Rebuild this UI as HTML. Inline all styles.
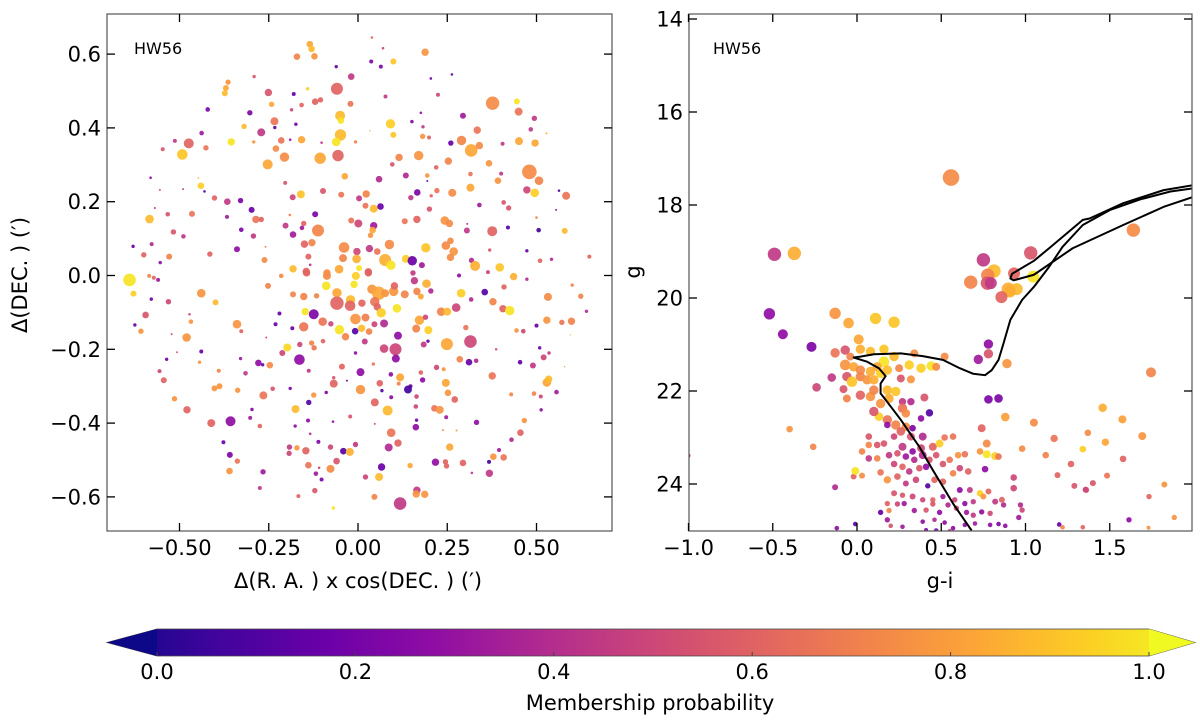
<!DOCTYPE html>
<html><head><meta charset="utf-8">
<style>
html,body{margin:0;padding:0;background:#fff;}
svg{display:block;font-family:"DejaVu Sans","Liberation Sans",sans-serif;}
</style></head>
<body>
<svg id="fig" width="1200" height="723" viewBox="0 0 1200 723" xmlns="http://www.w3.org/2000/svg">
<defs>
<linearGradient id="plasmaGrad" x1="0" x2="1" y1="0" y2="0">
<stop offset="0" stop-color="#0d0887"/><stop offset="0.1" stop-color="#41049d"/><stop offset="0.2" stop-color="#6a00a8"/><stop offset="0.3" stop-color="#8f0da4"/><stop offset="0.4" stop-color="#b12a90"/><stop offset="0.5" stop-color="#cc4778"/><stop offset="0.6" stop-color="#e16462"/><stop offset="0.7" stop-color="#f2844b"/><stop offset="0.8" stop-color="#fca636"/><stop offset="0.9" stop-color="#fcce25"/><stop offset="1" stop-color="#f0f921"/>
</linearGradient>
<clipPath id="clipL"><rect x="107" y="14" width="505" height="517"/></clipPath>
<clipPath id="clipR"><rect x="689" y="14" width="503" height="517"/></clipPath>
</defs>
<g id="leftPanel">
<g id="leftDots" clip-path="url(#clipL)"></g>
<rect x="107" y="14" width="505" height="517" fill="none" stroke="#555" stroke-width="1.2"/>
<g id="leftAxes"></g>
<text x="134" y="54" font-size="16">HW56</text>
<text x="358" y="588" font-size="21" text-anchor="middle">Δ(R. A. ) x cos(DEC. ) (′)</text>
<text transform="translate(27,275) rotate(-90)" font-size="21" text-anchor="middle">Δ(DEC. ) (′)</text>
</g>
<g id="rightPanel">
<g id="rightDots" clip-path="url(#clipR)"></g>
<g id="iso" clip-path="url(#clipR)"></g>
<rect x="689" y="14" width="503" height="517" fill="none" stroke="#555" stroke-width="1.2"/>
<g id="rightAxes"></g>
<text x="713" y="54" font-size="16">HW56</text>
<text x="940" y="588" font-size="21" text-anchor="middle">g-i</text>
<text transform="translate(640,272) rotate(-90)" font-size="21" text-anchor="middle">g</text>
</g>
<g id="colorbar">
<polygon points="107,642.5 157,629 1149,629 1195,642.5 1149,656 157,656" fill="url(#plasmaGrad)" stroke="#444" stroke-width="0.8"/>
<polygon points="107,642.5 157,629 157,656" fill="#0d0887"/>
<polygon points="1195,642.5 1149,629 1149,656" fill="#f0f921"/>
<g id="cbTicks"></g>
<text x="650" y="710" font-size="21" text-anchor="middle">Membership probability</text>
</g>
</svg>
<script>
// ---- data ----
const leftTicksX = [-0.5,-0.25,0,0.25,0.5];
const leftTickLabelsX = ["−0.50","−0.25","0.00","0.25","0.50"];
const leftTicksY = [-0.6,-0.4,-0.2,0,0.2,0.4,0.6];
const leftTickLabelsY = ["−0.6","−0.4","−0.2","0.0","0.2","0.4","0.6"];
const rightTicksX = [-1,-0.5,0,0.5,1,1.5];
const rightTickLabelsX = ["−1.0","−0.5","0.0","0.5","1.0","1.5"];
const rightTicksY = [14,16,18,20,22,24];
const rightTickLabelsY = ["14","16","18","20","22","24"];
const cbTicks = [0,0.2,0.4,0.6,0.8,1.0];
const cbTickLabels = ["0.0","0.2","0.4","0.6","0.8","1.0"];
// [dRA, dDEC, prob, markerSize]
const skyStars = [
[-0.135,0.627,0.8,3.3],[-0.13,0.614,0.85,3.3],[-0.122,0.594,0.75,3.3],[-0.171,0.593,0.7,3.3],[0.039,0.645,0.6,1.3],[0.07,0.616,0.5,1.3],[0.188,0.605,0.75,3.7],[-0.061,0.566,0.2,1.7],[0.037,0.58,0.25,2],[0.064,0.566,0.25,2],[0.099,0.58,0.88,3],[-0.019,0.539,0.45,3.3],[-0.291,0.539,0.55,1.7],[-0.364,0.524,0.75,2.7],[-0.37,0.508,0.8,3],[-0.373,0.494,0.85,3],[-0.251,0.496,0.55,3.7],[-0.18,0.492,0.2,2],[-0.141,0.506,0.9,1.7],[-0.059,0.506,0.6,6],[-0.12,0.471,0.6,3.3],[-0.105,0.476,0.6,2.7],[-0.158,0.462,0.6,2.3],[-0.186,0.449,0.5,1.7],[-0.242,0.464,0.8,2.7],[-0.021,0.465,0.65,3],[0.077,0.485,0.45,2],[0.224,0.49,0.5,2],[0.204,0.534,0.2,1.3],[0.263,0.545,0.2,1.3],[0.377,0.467,0.72,6.7],[0.445,0.472,0.95,3],[0.45,0.444,0.65,4],[0.494,0.426,0.45,2.7],[0.294,0.433,0.35,3],[-0.421,0.45,0.25,2.3],[-0.303,0.441,0.25,2.7],[-0.05,0.433,0.85,5],[-0.048,0.42,0.95,3.3],[0.091,0.411,0.9,4.7],[-0.234,0.418,0.65,4],[-0.174,0.41,0.2,1.7],[-0.233,0.401,0.15,1.7],[-0.319,0.404,0.85,2.7],[0.176,0.441,0.3,1.3],[0.151,0.417,0.25,1.7],[0.182,0.403,0.45,1.7],[-0.271,0.388,0.45,4],[-0.438,0.386,0.35,2.3],[-0.513,0.365,0.45,2],[-0.474,0.358,0.6,5],[-0.547,0.342,0.55,2],[-0.492,0.328,0.88,5.3],[-0.426,0.346,0.65,2.7],[-0.355,0.362,0.95,3.7],[-0.292,0.362,0.75,1.7],[-0.215,0.366,0.65,3.3],[-0.19,0.368,0.35,1.3],[-0.158,0.368,0.8,3.7],[-0.102,0.36,0.45,1.3],[-0.049,0.381,0.85,5.7],[-0.061,0.362,0.95,4.3],[-0.007,0.362,0.7,1.7],[-0.056,0.325,0.6,5.7],[-0.106,0.318,0.8,5.7],[-0.206,0.321,0.72,4.7],[-0.23,0.344,0.72,3.3],[-0.253,0.301,0.8,5],[0.099,0.381,0.88,3],[0.033,0.392,0.8,0.7],[0.181,0.377,0.75,2.7],[0.199,0.374,0.6,2],[0.26,0.359,0.2,2.7],[0.29,0.366,0.7,4.7],[0.317,0.339,0.8,6.3],[0.34,0.352,0.72,3.7],[0.334,0.394,0.65,3.7],[0.405,0.357,0.45,2],[0.451,0.364,0.8,4],[0.496,0.359,0.8,3.7],[0.484,0.396,0.45,2.3],[0.528,0.385,0.8,1],[0.115,0.32,0.7,3.7],[0.17,0.325,0.75,4.7],[0.096,0.301,0.55,2.3],[0.219,0.293,0.6,2.3],[0.253,0.31,0.7,3.7],[0.367,0.304,0.75,3.3],[0.48,0.281,0.72,7.3],[0.507,0.257,0.7,4.3],[0.315,0.275,0.65,2.3],[0.401,0.276,0.45,2],[0.392,0.257,0.75,3.3],[0.315,0.238,0.8,4],[0.473,0.232,0.5,3.7],[0.495,0.224,0.9,4.3],[0.563,0.23,0.15,1.3],[0.583,0.216,0.65,4],[-0.037,0.269,0.8,3.3],[0.134,0.271,0.4,3],[0.194,0.271,0.75,2.3],[0.194,0.256,0.15,1],[0.059,0.261,0.4,3.3],[0.166,0.225,0.25,3.3],[0.148,0.211,0.45,2.7],[0.205,0.216,0.6,1.7],[0.221,0.23,0.65,2.7],[0.264,0.224,0.72,4],[-0.581,0.265,0.3,1.3],[-0.555,0.232,0.5,1],[-0.49,0.234,0.45,1],[-0.447,0.264,0.75,0.7],[-0.44,0.243,0.9,3.3],[-0.43,0.228,0.15,1.3],[-0.402,0.21,0.6,2.7],[-0.366,0.2,0.45,3.3],[-0.329,0.203,0.25,2.7],[-0.204,0.251,0.55,2],[-0.16,0.22,0.88,4],[-0.183,0.212,0.5,3],[-0.098,0.229,0.55,3],[-0.047,0.219,0.65,3],[0.003,0.209,0.45,3],[0.023,0.221,0.7,3.7],[0.021,0.189,0.65,3],[0.044,0.181,0.85,4],[0.063,0.187,0.2,3.3],[0.2,0.18,0.55,2.7],[0.34,0.191,0.35,2.3],[0.408,0.198,0.55,2.3],[0.422,0.183,0.55,2.7],[0.555,0.178,0.3,1],[-0.584,0.153,0.85,4.3],[-0.569,0.183,0.4,1],[-0.533,0.166,0.55,2.3],[-0.465,0.167,0.65,3],[-0.517,0.118,0.55,2.7],[-0.489,0.106,0.45,2.3],[-0.367,0.159,0.35,2],[-0.298,0.178,0.2,3],[-0.286,0.152,0.65,3.7],[-0.271,0.152,0.6,2.7],[-0.327,0.124,0.25,2.3],[-0.293,0.107,0.45,2.7],[-0.191,0.164,0.7,1.3],[-0.12,0.166,0.25,3],[-0.152,0.141,0.6,2.7],[-0.203,0.135,0.45,3],[-0.157,0.129,0.35,2.3],[-0.182,0.111,0.35,3.3],[-0.112,0.122,0.7,6],[-0.019,0.149,0.65,3],[0.001,0.141,0.5,4],[0.044,0.135,0.35,3.7],[0.041,0.123,0.8,3.3],[0.035,0.109,0.75,2.7],[0.131,0.147,0.65,3],[0.165,0.152,0.6,3.7],[0.243,0.149,0.75,4.3],[0.256,0.141,0.72,3.7],[0.306,0.14,0.4,1],[0.305,0.122,0.45,3],[0.376,0.12,0.6,5],[0.42,0.13,0.15,2],[0.5,0.157,0.7,1.3],[0.506,0.123,0.1,2.3],[0.579,0.121,0.85,3],[-0.63,0.079,0.2,1.7],[-0.578,0.085,0.4,2],[-0.6,0.056,0.6,2.7],[-0.554,0.035,0.3,1.7],[-0.529,0.051,0.7,3],[-0.415,0.058,0.6,2.7],[-0.339,0.071,0.3,3],[-0.259,0.078,0.7,1],[-0.262,0.042,0.72,3],[-0.15,0.085,0.6,3.7],[-0.129,0.089,0.7,3.7],[-0.139,0.051,0.6,3],[-0.134,0.029,0.4,1.3],[-0.039,0.076,0.72,5.3],[-0.042,0.047,0.7,4],[-0.003,0.065,0.5,3.7],[-0.004,0.045,0.82,4.3],[0.032,0.073,0.45,3.7],[0.054,0.065,0.65,3.3],[0.088,0.084,0.72,4.7],[0.076,0.042,0.82,6],[0.092,0.028,0.95,4.7],[0.134,0.045,0.9,4],[0.152,0.04,0.2,4.7],[0.179,0.028,0.35,3],[0.19,0.075,0.88,4.7],[0.246,0.081,0.72,4.3],[0.259,0.094,0.72,3.3],[0.268,0.065,0.75,4.3],[0.259,0.049,0.72,3.7],[0.318,0.041,0.4,2.7],[0.328,0.026,0.82,5],[0.369,0.069,0.55,1.7],[0.397,0.022,0.88,4.3],[0.473,0.067,0.2,1.7],[0.51,0.04,0.6,2.3],[0.542,0.044,0.4,1.7],[0.648,0.051,0.6,2],[-0.182,0.018,0.85,3.7],[-0.145,0.011,0.6,3.7],[-0.087,0.007,0.72,3.7],[-0.053,0.017,0.8,4.3],[0.003,0.02,0.95,3],[0.029,0.01,0.6,3.7],
[-0.64,-0.012,0.95,6.3],[-0.585,-0.001,0.7,2],[-0.572,-0.006,0.6,2],[-0.56,-0.012,0.35,2],[-0.629,-0.049,0.9,3],[-0.439,-0.048,0.75,4.3],[-0.399,-0.073,0.85,3],[-0.579,-0.064,0.2,1.7],[-0.531,-0.071,0.5,2.7],[-0.595,-0.107,0.55,3.3],[-0.472,-0.105,0.5,1.3],[-0.468,-0.125,0.75,2.3],[-0.625,-0.134,0.2,1.7],[-0.608,-0.151,0.75,2.7],[-0.522,-0.159,0.5,1],[-0.48,-0.168,0.75,4.3],[-0.339,-0.132,0.75,4.3],[-0.327,-0.151,0.6,2],[-0.252,-0.028,0.7,3],[-0.215,-0.001,0.72,2.3],[-0.144,0.007,0.6,3.7],[-0.087,-0.001,0.72,4],[-0.006,-0.001,0.9,4],[0.029,0.007,0.6,3.7],[-0.182,-0.051,0.7,3],[-0.152,-0.057,0.7,3.7],[-0.116,-0.055,0.7,2.7],[-0.089,-0.028,0.95,4.3],[-0.059,-0.047,0.8,4.7],[-0.011,-0.024,0.95,3.7],[-0.021,-0.066,0.85,4.7],[-0.059,-0.075,0.6,6.7],[-0.022,-0.082,0.6,5.3],[0.011,-0.075,0.6,3.7],[0.039,-0.037,0.75,4.7],[0.058,-0.048,0.8,6.7],[0.076,-0.048,0.75,4],[0.1,-0.043,0.75,4.7],[0.102,-0.028,0.6,3.7],[0.047,-0.071,0.65,4.7],[0.054,-0.085,0.6,3.7],[0.065,-0.101,0.9,4.7],[0.109,-0.089,0.95,4.3],[0.131,-0.051,0.7,4],[0.165,-0.043,0.7,3.7],[0.176,-0.057,0.8,3],[0.192,-0.022,0.82,4.3],[0.158,-0.014,0.45,3.7],[0.154,0.007,0.45,2.7],[0.204,-0.042,0.4,2.7],[-0.148,-0.098,0.95,3.7],[-0.124,-0.105,0.25,5],[-0.099,-0.125,0.65,4.3],[-0.076,-0.131,0.5,2.7],[-0.152,-0.139,0.65,4.7],[-0.22,-0.103,0.2,2],[-0.231,-0.132,0.2,2],[-0.184,-0.143,0.2,2],[-0.052,-0.147,0.95,4.7],[-0.035,-0.166,0.7,3.7],[-0.008,-0.151,0.15,3.3],[-0.007,-0.118,0.75,5.3],[0.021,-0.114,0.68,4],[0.01,-0.143,0.85,3.7],[0.031,-0.152,0.7,3.3],[0.046,-0.132,0.5,3],[0.073,-0.13,0.4,4],[0.112,-0.163,0.3,4],[0.172,-0.121,0.8,4.7],[0.189,-0.113,0.5,2.7],[0.163,-0.144,0.7,4],[0.197,-0.148,0.9,4],[0.233,-0.098,0.7,4.3],[0.25,-0.098,0.85,4],[0.275,-0.087,0.5,4.3],[0.289,-0.048,0.9,4.3],[0.317,-0.065,0.4,2.3],[0.355,-0.045,0.15,3.3],[0.378,-0.071,0.7,3.7],[0.409,-0.031,0.6,2.7],[0.436,-0.003,0.82,3.7],[0.473,-0.01,0.4,1.7],[0.283,0,0.3,2],[0.406,-0.09,0.6,3.7],[0.425,-0.095,0.95,4.7],[0.364,0.009,0.5,2],[0.532,-0.058,0.72,4],[0.624,-0.056,0.7,2.7],[0.6,-0.026,0.7,1.7],[0.64,-0.097,0.4,1.7],[0.529,-0.121,0.75,3.7],[0.571,-0.127,0.65,2.7],[0.598,-0.124,0.7,3.7],[0.5,-0.136,0.2,2],[0.444,-0.149,0.75,2.3],[0.463,-0.151,0.5,2.3],[0.302,-0.141,0.65,2.7],[0.595,-0.161,0.85,0.7],[-0.257,-0.168,0.5,1],[-0.198,-0.195,0.92,4],[-0.163,-0.187,0.5,2.7],[-0.13,-0.183,0.7,2.7],[-0.123,-0.196,0.65,2.7],[-0.098,-0.178,0.6,2.3],[-0.212,-0.21,0.5,3],[-0.164,-0.228,0.3,5.3],[-0.279,-0.237,0.3,3.3],[-0.267,-0.242,0.2,1.7],[-0.247,-0.243,0.72,3.3],[-0.315,-0.265,0.45,2.3],[-0.329,-0.225,0.35,1.7],[-0.439,-0.206,0.2,2],[-0.444,-0.235,0.75,1.7],[-0.507,-0.208,0.55,1],[-0.536,-0.227,0.2,1.7],[-0.556,-0.259,0.5,2],[-0.544,-0.284,0.6,3],[-0.39,-0.258,0.7,2],[-0.402,-0.306,0.75,3],[-0.388,-0.3,0.75,3],[-0.337,-0.311,0.75,2.7],[-0.265,-0.325,0.65,4],[-0.239,-0.307,0.55,2.3],[-0.514,-0.334,0.75,2.7],[-0.479,-0.364,0.6,3.7],[-0.411,-0.4,0.6,4],[-0.357,-0.395,0.3,5],[-0.302,-0.386,0.35,2],[-0.297,-0.363,0.25,1.7],[-0.275,-0.408,0.6,2.3],[-0.377,-0.452,0.2,2],[-0.359,-0.486,0.25,3],[-0.338,-0.503,0.65,2.7],[-0.36,-0.53,0.75,3.3],[-0.266,-0.532,0.35,2.7],[-0.275,-0.576,0.45,2],[-0.19,-0.306,0.25,1.7],[-0.138,-0.258,0.45,2],[-0.124,-0.324,0.75,2.7],[-0.089,-0.317,0.25,1.7],[-0.138,-0.344,0.15,2.7],[-0.175,-0.362,0.85,4],[-0.14,-0.393,0.3,2],[-0.176,-0.408,0.3,1.7],[-0.134,-0.429,0.4,1.3],[-0.111,-0.451,0.25,2],[-0.192,-0.465,0.45,2.7],[-0.193,-0.482,0.5,2.7],[-0.171,-0.467,0.75,2.7],[-0.146,-0.475,0.6,3.7],[-0.077,-0.465,0.5,2.7],[-0.139,-0.514,0.65,3.3],[-0.118,-0.537,0.35,2.3],[-0.102,-0.553,0.25,2],[-0.109,-0.521,0.5,1.3],[-0.077,-0.524,0.72,4],[-0.06,-0.503,0.55,3.3],[-0.041,-0.476,0.15,3.3],[-0.023,-0.478,0.82,4],[-0.007,-0.458,0.45,2.7],[-0.121,-0.583,0.55,2.7],[-0.167,-0.598,0.6,2],[-0.069,-0.63,0.95,1.7],[-0.07,-0.396,0.3,1.3],[-0.022,-0.382,0.55,2],[0.047,-0.402,0.5,1],[-0.068,-0.277,0.55,1.7],[-0.068,-0.293,0.6,4],[-0.031,-0.285,0.2,1],[-0.045,-0.247,0.6,3],[-0.007,-0.21,0.3,1.7],[0.007,-0.262,0.3,4],[0.019,-0.179,0.45,3],[0.043,-0.24,0.65,1.7],[0.007,-0.309,0.75,4.7],[0.061,-0.292,0.6,3.3],[0.067,-0.312,0.15,1.7],[0.047,-0.344,0.6,4],[0.093,-0.33,0.3,2],[0.083,-0.366,0.85,5],[0.092,-0.268,0.3,2.3],[0.073,-0.198,0.5,4.3],[0.105,-0.2,0.5,6],[0.106,-0.225,0.3,4],[0.118,-0.276,0.8,4],[0.114,-0.293,0.7,2],[0.14,-0.309,0.1,4],[0.147,-0.3,0.15,2],[0.164,-0.328,0.5,2.3],[0.176,-0.263,0.6,2.3],[0.181,-0.283,0.3,2.7],[0.184,-0.187,0.45,3],[0.196,-0.178,0.2,1.7],[0.22,-0.249,0.5,2.7],[0.24,-0.254,0.75,2],[0.246,-0.291,0.8,4],[0.252,-0.318,0.75,3.3],[0.271,-0.336,0.6,3.3],[0.249,-0.186,0.8,6],[0.315,-0.179,0.5,6.3],[0.285,-0.227,0.7,3.3],[0.311,-0.235,0.2,3.3],[0.331,-0.231,0.4,2.3],[0.376,-0.272,0.65,3.7],[0.214,-0.36,0.65,3.3],[0.229,-0.364,0.75,4],[0.162,-0.355,0.5,2.3],[0.247,-0.384,0.35,2],[0.164,-0.392,0.2,1.7],[0.162,-0.411,0.3,3.3],[0.238,-0.419,0.7,1],[0.276,-0.42,0.75,1],[0.093,-0.426,0.65,4.3],[0.112,-0.454,0.6,3.7],[0.086,-0.466,0.4,4],[0.257,-0.465,0.8,3.7],[0.332,-0.398,0.3,2.7],[0.066,-0.519,0.2,3.7],[0.059,-0.546,0.85,4],[0.021,-0.546,0.5,2.7],[0.146,-0.515,0.8,2.7],[0.217,-0.506,0.3,3.7],[0.245,-0.505,0.6,2.7],[0.248,-0.516,0.6,2.7],[0.294,-0.508,0.6,3.3],[0.319,-0.535,0.45,1.3],[0.368,-0.536,0.45,3.7],[0.367,-0.505,0.1,2],[0.379,-0.491,0.75,3.3],[0.395,-0.473,0.35,2],[0.408,-0.493,0.65,3.3],[0.43,-0.445,0.4,2.3],[0.455,-0.426,0.6,3.3],[0.466,-0.393,0.75,2.7],[0.513,-0.364,0.3,1.7],[0.512,-0.328,0.5,2],[0.493,-0.32,0.7,2.3],[0.556,-0.316,0.35,2.3],[0.429,-0.322,0.7,2],[0.529,-0.29,0.8,4.3],[0.534,-0.281,0.85,3.7],[0.579,-0.247,0.75,0.7],[0.49,-0.244,0.45,3],[0.52,-0.222,0.5,3],[0.535,-0.21,0.45,1.7],[0.509,-0.196,0.2,1.7],[0.454,-0.235,0.2,2.3],[0.387,-0.2,0.55,1.3],[0.165,-0.582,0.45,3.7],[0.187,-0.593,0.75,3.7],[0.163,-0.592,0.75,3.7],[0.118,-0.618,0.45,6.3],[0.046,-0.6,0.7,3]
];
// [g-i, g, prob, markerSize]
const cmdStars = [
[0.558,17.41,0.72,8.3],[-0.49,19.06,0.45,6.7],[-0.372,19.04,0.82,6.7],[0.75,19.18,0.45,6.7],[1.031,19.03,0.55,6.7],[0.813,19.42,0.85,6.7],[0.776,19.51,0.7,6.7],[0.932,19.47,0.6,6],[1.046,19.54,0.95,6],[0.675,19.66,0.7,6.7],[0.774,19.68,0.55,6.7],[0.794,19.68,0.45,6],[0.898,19.81,0.82,6.7],[0.948,19.81,0.85,6],[0.907,19.86,0.82,6],[0.857,19.98,0.6,6],[1.64,18.54,0.72,6.7],
[-0.52,20.34,0.3,5.7],[-0.44,20.78,0.3,5],[-0.27,21.05,0.25,5],[-0.13,20.33,0.75,5.7],[-0.05,20.54,0.8,5.3],[0.11,20.44,0.88,5.7],[0.22,20.52,0.88,5.7],[0.01,20.89,0.8,5],[-0.13,21.18,0.65,4.7],[-0.07,21.12,0.55,4.7],
[-0.04,21.26,0.7,4],[0.02,21.1,0.82,4.7],[0.08,21.15,0.85,4.7],[0.16,21.1,0.88,4.7],[0.22,21.26,0.85,4.7],[0.16,21.37,0.95,5.3],[-0.07,21.44,0.75,5.3],[-0.02,21.48,0.8,4.7],[0.02,21.55,0.72,4.7],[0.08,21.58,0.82,4.7],[0.12,21.48,0.8,4.7],[-0.06,21.69,0.55,4.7],[-0.03,21.8,0.88,5.3],[0.02,21.69,0.7,4.7],[0.06,21.76,0.75,4.7],[0.1,21.76,0.82,4.7],[0.14,21.62,0.9,4.7],[0.18,21.55,0.85,4.7],[0.25,21.51,0.7,4],[0.26,21.73,0.55,4],[0.32,21.75,0.75,4],[0.34,21.19,0.72,4],[0.31,21.44,0.9,4.7],[0.38,21.51,0.9,4.7],[0.44,21.46,0.95,4.7],[0.47,21.48,0.72,4],[0.52,21.26,0.72,4],
[-0.15,21.71,0.45,4.3],[-0.24,21.92,0.5,4.3],[-0.08,21.96,0.55,4],[-0.06,22.16,0.7,4],[0.02,22.09,0.6,4.7],[0.08,22.12,0.75,4.7],[0.1,21.98,0.7,4.7],[0.18,21.98,0.85,4.7],[0.23,22.01,0.88,4.7],[0.19,22.16,0.82,4.7],[0.14,22.27,0.75,4.7],[0.27,22.23,0.45,3.7],[0.32,22.23,0.4,3.7],[0.27,22.37,0.65,4.7],[0.29,22.48,0.72,4.3],[0.4,22.14,0.55,4],[0.43,22.47,0.15,3.7],[0.38,22.59,0.3,3.3],[0.13,22.55,0.9,4.3],[0.1,22.44,0.55,4.7],[0.18,22.62,0.65,4.7],[0.23,22.73,0.7,4.7],[0.29,22.77,0.72,4.3],[0.18,22.73,0.3,3.3],[0.33,22.8,0.25,3.3],[0.26,22.87,0.6,4.3],[0.32,22.98,0.55,4],[0.07,22.98,0.55,3.3],[0.12,23.16,0.55,3.3],[0.07,23.16,0.7,3.3],[0.16,23.13,0.55,3.3],[0.22,22.98,0.5,3.3],[0.27,23.2,0.45,4],[0.39,22.98,0.4,4],[0.45,23.2,0.6,4],[0.38,23.23,0.5,4],[0.33,23.3,0.3,3.3],[0.39,23.38,0.4,4],[0.43,23.48,0.55,3.3],[0.49,23.13,0.9,4],[0.52,23.0,0.65,3.3],[0.57,22.98,0.65,3.3],
[0.03,23.3,0.7,3.3],[0.07,23.45,0.45,3.3],[0.12,23.45,0.7,3.3],[0.19,23.38,0.45,3.3],[0.24,23.34,0.55,3.3],[0.29,23.41,0.35,3.3],[0.34,23.48,0.4,3.3],[0.22,23.57,0.5,3.3],[0.27,23.63,0.6,3.3],[0.31,23.73,0.45,3.3],[0.37,23.66,0.55,3.3],[0.41,23.63,0.3,3.3],[0.47,23.38,0.55,3.3],[0.51,23.57,0.55,3.3],[0.55,23.48,0.65,3.3],[0.6,23.38,0.75,3.3],[0.64,23.36,0.65,3.3],[0.61,23.66,0.5,3.3],[0.66,23.73,0.6,3.3],[0.74,22.8,0.6,4],[0.77,23.13,0.72,4],[0.77,23.36,0.95,4],[0.82,23.4,0.9,4],[0.84,23.41,0.65,3.3],[0.73,23.3,0.75,3.3],[0.76,23.68,0.3,3.3],[0.78,22.18,0.25,4.3],[0.72,21.32,0.35,4.7],[0.78,21.2,0.55,4.7],[0.78,20.99,0.3,4.7],[0.84,22.16,0.25,4.3],[0.89,21.41,0.75,4.7],[0.88,22.56,0.78,4.3],[1.05,22.68,0.72,4],[1.17,23.02,0.65,3.7],[1.12,23.38,0.7,3.3],[0.98,23.24,0.72,3.3],[1.37,22.9,0.72,3.3],[1.34,23.25,0.9,3.3],[1.27,23.57,0.6,3.3],[1.19,23.81,0.6,3],[1.29,24.04,0.55,3],[1.36,24.13,0.6,3],[0.93,23.86,0.5,3.3],[0.93,24.09,0.5,3.3],
[-0.4,22.82,0.75,3.3],[-0.26,23.2,0.7,3.3],[-0.13,24.07,0.4,3],[-0.02,23.84,0.6,3],[0.03,23.82,0.72,3],[-0.01,23.72,0.95,4],[0.14,23.75,0.65,3.3],[0.18,23.91,0.75,3.7],[0.24,23.84,0.6,3.3],[0.29,23.99,0.45,3],[0.35,23.91,0.5,3.3],[0.42,24.04,0.15,2.7],[0.46,23.91,0.6,3.3],[0.51,23.95,0.6,3.3],[0.57,23.77,0.7,3.3],[0.61,24.13,0.3,3],[0.67,24.13,0.45,3],[0.73,24.2,0.9,3.3],[0.78,24.16,0.6,3],[0.75,24.27,0.75,3],[0.82,24.38,0.45,3],[0.86,24.34,0.6,3],[0.87,24.45,0.4,2.7],[0.69,24.38,0.45,2.7],[0.64,24.42,0.3,2.7],[0.58,24.34,0.5,2.7],[0.51,24.27,0.35,2.7],[0.45,24.34,0.6,2.7],[0.39,24.34,0.5,2.7],[0.33,24.27,0.5,3],[0.27,24.24,0.55,2.7],[0.22,24.2,0.55,3],[0.18,24.42,0.6,2.7],[0.14,24.61,0.2,2.7],[0.19,24.57,0.7,2.7],[0.24,24.43,0.5,2.7],[0.28,24.42,0.35,2.7],[0.34,24.57,0.35,2.7],[0.41,24.56,0.55,2.7],[0.45,24.43,0.55,2.7],[0.49,24.61,0.3,2.7],[0.54,24.45,0.4,2.7],[0.59,24.52,0.5,2.7],[0.65,24.61,0.35,2.7],[0.69,24.67,0.45,2.7],[0.74,24.6,0.3,2.7],[0.79,24.63,0.5,2.7],[0.97,24.45,0.4,2.7],[0.98,24.56,0.5,2.7],[0.96,24.72,0.35,2.7],[0.18,24.77,0.35,2.7],[0.27,24.92,0.35,2.3],[0.39,24.81,0.3,2.3],[0.46,24.77,0.4,2.3],[0.47,25.0,0.25,2.3],[0.52,24.83,0.3,2.3],[0.57,24.95,0.3,2.3],[0.64,24.88,0.3,2.3],[0.7,24.85,0.35,2.3],[0.79,24.88,0.3,2.3],[0.84,24.86,0.25,2.3],[0.88,24.9,0.3,2.3],[1.2,24.87,0.2,2.3],[1.22,24.93,0.7,2.3],[1.34,24.93,0.6,2.3],[-0.01,24.86,0.15,2.3],[-0.12,24.95,0.3,2.3],[0.2,24.9,0.55,2.3],[0.55,25.01,0.45,2],[0.41,24.99,0.25,2],
[1.745,21.6,0.7,5],[1.458,22.36,0.82,4.3],[1.575,22.61,0.78,4],[1.693,22.97,0.75,4],[1.474,23.1,0.8,3.7],[1.579,23.46,0.6,3.3],[1.484,23.82,0.65,3],[1.4,23.98,0.55,3],[1.357,24.12,0.5,3],[1.824,24.01,0.75,3],[1.733,24.27,0.6,2.7],[1.883,24.72,0.75,2.7],[1.614,24.77,0.3,2.7],[1.73,24.94,0.75,2],[-1.0,23.39,0.4,2]
];
// isochrone segments [g-i, g]
const isoMain = [[0.68,25.0],[0.57,24.42],[0.45,23.7],[0.37,23.2],[0.26,22.62],[0.17,22.19],[0.14,22.05],[0.14,21.84],[0.17,21.68],[0.13,21.51],[0.06,21.37],[-0.02,21.28],[0.02,21.26],[0.1,21.21],[0.26,21.19],[0.39,21.25],[0.51,21.33],[0.61,21.51],[0.69,21.63],[0.76,21.66],[0.8,21.55],[0.84,21.33],[0.87,20.97],[0.91,20.47],[0.98,20.04],[1.05,19.76],[1.14,19.33],[1.22,18.9],[1.34,18.43],[1.5,18.11],[1.68,17.88],[1.86,17.71],[2.0,17.64]];
const isoLate = [[2.0,17.57],[1.82,17.68],[1.58,17.96],[1.38,18.29],[1.34,18.32],[1.15,18.9],[1.05,19.2],[0.92,19.48],[0.91,19.58],[0.93,19.62],[1.05,19.5],[1.28,18.93],[1.58,18.43],[1.82,18.04],[2.0,17.82]];

// ---- scales ----
const NS = "http://www.w3.org/2000/svg";
const lx = v => 358 + v*357;
const ly = v => 275.5 - v*369;
const rx = v => 857 + v*168.5;
const ry = v => 391 + (v-22)*46.5;
const cbx = v => 157 + v*992;
const stops = [[13,8,135],[65,4,157],[106,0,168],[143,13,164],[177,42,144],[204,71,120],[225,100,98],[242,132,75],[252,166,54],[252,206,37],[240,249,33]];
function plasma(p){
  p = Math.max(0, Math.min(1, p));
  const t = p*10, i = Math.min(9, Math.floor(t)), f = t - i;
  const a = stops[i], b = stops[i+1];
  return "rgb(" + a.map((c,k)=>Math.round(c+(b[k]-c)*f)).join(",") + ")";
}
function mk(tag, attrs, parent){
  const el = document.createElementNS(NS, tag);
  for (const k in attrs) el.setAttribute(k, attrs[k]);
  parent.appendChild(el);
  return el;
}
const leftDots = document.getElementById("leftDots");
skyStars.forEach(s => {
  const c = mk("circle", {cx: lx(s[0]), cy: ly(s[1]), r: s[3], fill: plasma(s[2]), "fill-opacity": 0.92}, leftDots);
  
  
});
const rightDots = document.getElementById("rightDots");
cmdStars.forEach(s => {
  const c = mk("circle", {cx: rx(s[0]), cy: ry(s[1]), r: s[3], fill: plasma(s[2]), "fill-opacity": 0.92}, rightDots);
  
  
});
const iso = document.getElementById("iso");
[isoMain, isoLate].forEach((seg, k) => {
  const p = mk("polyline", {points: seg.map(q => rx(q[0]) + "," + ry(q[1])).join(" "), fill: "none", stroke: "#000", "stroke-width": 2, "stroke-linejoin": "round"}, iso);
  
  
});
function axes(g, ticksX, labX, sx, ticksY, labY, sy, x0, x1, y0, y1){
  ticksX.forEach((v,i) => {
    const X = sx(v);
    const t1 = mk("line", {x1: X, x2: X, y1: y1, y2: y1-8, stroke: "#000", "stroke-width": 1.3}, g);
    
    
    const t2 = mk("line", {x1: X, x2: X, y1: y0, y2: y0+8, stroke: "#000", "stroke-width": 1.3}, g);
    
    
    const tx = mk("text", {x: X, y: y1+24, "font-size": 21, "text-anchor": "middle"}, g);
    tx.textContent = labX[i];
    
    
  });
  ticksY.forEach((v,i) => {
    const Y = sy(v);
    const t1 = mk("line", {x1: x0, x2: x0+8, y1: Y, y2: Y, stroke: "#000", "stroke-width": 1.3}, g);
    
    
    const t2 = mk("line", {x1: x1, x2: x1-8, y1: Y, y2: Y, stroke: "#000", "stroke-width": 1.3}, g);
    
    
    const ty = mk("text", {x: x0-6, y: Y+7.5, "font-size": 21, "text-anchor": "end"}, g);
    ty.textContent = labY[i];
    
    
  });
}
axes(document.getElementById("leftAxes"), leftTicksX, leftTickLabelsX, lx, leftTicksY, leftTickLabelsY, ly, 107, 612, 14, 531);
axes(document.getElementById("rightAxes"), rightTicksX, rightTickLabelsX, rx, rightTicksY, rightTickLabelsY, ry, 689, 1192, 14, 531);
const cb = document.getElementById("cbTicks");
cbTicks.forEach((v,i) => {
  const X = cbx(v);
  const t = mk("line", {x1: X, x2: X, y1: 656, y2: 652, stroke: "#444", "stroke-width": 1}, cb);
  
  
  const tx = mk("text", {x: X, y: 679, "font-size": 21, "text-anchor": "middle"}, cb);
  tx.textContent = cbTickLabels[i];
  
  
});
</script>
</body></html>
